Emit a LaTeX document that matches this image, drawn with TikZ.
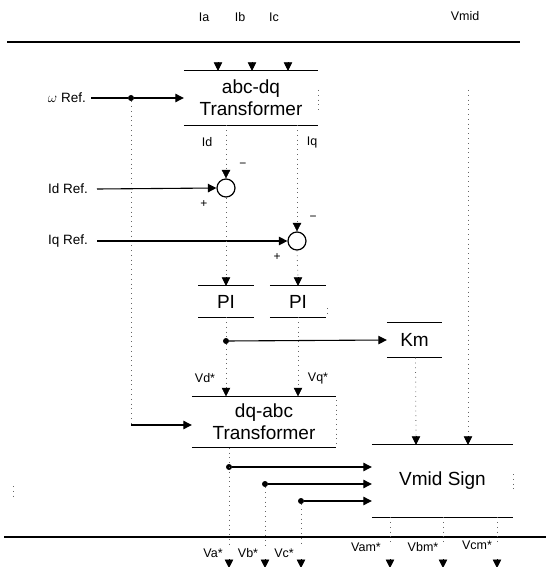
\documentclass[tikz,border=0pt]{standalone}
\usepackage{fontspec}
\setmainfont{Liberation Sans}
\usetikzlibrary{arrows.meta}
\begin{document}
\begin{tikzpicture}[x=1pt,y=-1pt,
  lab/.style={font=\fontsize{12.5}{14}\selectfont, inner sep=0pt},
  reflab/.style={font=\fontsize{13.5}{16}\selectfont, inner sep=0pt, anchor=east},
  blk/.style={font=\fontsize{19}{22}\selectfont, align=center, inner sep=0pt},
  hline/.style={line width=1.2pt},
  dotl/.style={line width=0.8pt, dash pattern=on 0.8pt off 4pt, black!60},
  arr/.style={line width=1.1pt, -{Triangle[length=8.5pt,width=8.5pt]}},
  tip/.style={line width=0.5pt, -{Triangle[length=8.5pt,width=8.5pt]}},
  jn/.style={circle, fill, inner sep=0pt, minimum size=6pt},
  sumj/.style={circle, draw, line width=1.2pt, minimum size=18pt, inner sep=0pt},
  sgn/.style={font=\fontsize{12}{14}\selectfont, inner sep=0pt},
]
\useasboundingbox (0,0) rectangle (546,567);

% top bus
\node[lab] (ia) at (204,17) {Ia};
\node[lab] (ib) at (240,17) {Ib};
\node[lab] (ic) at (274,17) {Ic};
\node[lab] (vmid) at (465,16) {Vmid};
\coordinate (tl) at (7,42);
\coordinate (tr) at (520,42);
\draw[line width=1.1pt] (tl) -- (tr);

% abc-dq
\node[blk, minimum width=134pt, minimum height=54pt] (abc) at (251,98) {abc-dq\\Transformer};
\draw[hline] (abc.north west) -- (abc.north east);
\draw[hline] (abc.south west) -- (abc.south east);
\draw[dotl] (318,90) -- (318,112);
\foreach \x in {218,252,288} \draw[tip] (\x,63) -- (\x,0 |- abc.north);

% omega ref
\node[reflab] (wref) at (86,98) {$\omega$ Ref.};
\node[jn] (wdot) at (131,98) {};
\draw[line width=1.1pt] (wref.east) ++(5,0) -- (wdot);
\draw[arr] (wdot) -- (abc.west);
\draw[dotl] (wdot) -- (131,425);

% Id / Iq
\node[lab] (idl) at (207,142) {Id};
\node[lab] (iql) at (312,142) {Iq};
\node[sumj] (s1) at (226,188) {};
\node[sumj] (s2) at (297,241) {};
\draw[dotl] (226,0 |- abc.south) -- (226,172);
\draw[tip] (226,171) -- (s1.north);
\draw[dotl] (297,0 |- abc.south) -- (297,225);
\draw[tip] (297,224) -- (s2.north);
\node[sgn] (m1) at (243,165) {\textminus};
\node[sgn] (p1) at (204,204) {+};
\node[sgn] (m2) at (313,218) {\textminus};
\node[sgn] (p2) at (277,257) {+};

\node[reflab] (idref) at (88,189) {Id Ref.};
\node[reflab] (iqref) at (88,241) {Iq Ref.};
\draw[arr] (idref.east) ++(9,0) -- (s1.west);
\draw[arr] (iqref.east) ++(9,0) -- (s2.west);

% PI blocks
\node[blk, minimum width=55pt, minimum height=31pt] (pi1) at (226,301.5) {PI};
\node[blk, minimum width=56pt, minimum height=31pt] (pi2) at (298,301.5) {PI};
\foreach \n in {pi1,pi2}{
  \draw[hline] (\n.north west) -- (\n.north east);
  \draw[hline] (\n.south west) -- (\n.south east);
}
\draw[dotl] (327,308) -- (327,316);
\draw[dotl] (s1.south) -- (226,279);
\draw[tip] (226,278) -- (pi1.north);
\draw[dotl] (s2.south) -- (298,279);
\draw[tip] (298,278) -- (pi2.north);

% Km
\node[blk, minimum width=55pt, minimum height=35pt] (km) at (414.5,340) {Km};
\draw[hline] (km.north west) -- (km.north east);
\draw[hline] (km.south west) -- (km.south east);
\node[jn] (vddot) at (226,341) {};
\draw[dotl] (pi1.south) -- (vddot);
\draw[arr] (vddot) -- (km.west);

% dq-abc
\node[blk, minimum width=144pt, minimum height=51pt] (dq) at (264,422) {dq-abc\\Transformer};
\draw[hline] (dq.north west) -- (dq.north east);
\draw[hline] (dq.south west) -- (dq.south east);
\draw[dotl] (336,400) -- (336,444);
\node[lab] (vdl) at (205,378) {Vd*};
\node[lab] (vql) at (318,378) {Vq*};
\draw[dotl] (vddot) -- (226,389);
\draw[tip] (226,388) -- (226,0 |- dq.north);
\draw[dotl] (pi2.south) -- (298,389);
\draw[tip] (298,388) -- (298,0 |- dq.north);
\draw[arr] (131,425) -- (dq.west |- 0,425);

% Vmid Sign
\node[blk, minimum width=141pt, minimum height=72pt] (vs) at (442.5,481) {Vmid Sign};
\draw[hline] (vs.north west) -- (vs.north east);
\draw[hline] (vs.south west) -- (vs.south east);
\draw[dotl] (513,474) -- (513,492);
\draw[dotl] (km.south) ++(1,0) -- (416,438);
\draw[tip] (416,437) -- (416,0 |- vs.north);
\draw[dotl] (468,90) -- (468,438);
\draw[tip] (468,437) -- (468,0 |- vs.north);

\node[jn] (da) at (229,467) {};
\node[jn] (db) at (265,484) {};
\node[jn] (dc) at (301,501) {};
\foreach \d in {da,db,dc} \draw[arr] (\d) -- (vs.west |- \d);

% bottom bus
\coordinate (bl) at (4,537);
\coordinate (br) at (546,537);
\draw[line width=1.1pt] (bl) -- (br);
\draw[dotl] (229,0 |- dq.south) -- (229,545);
\draw[dotl] (db) -- (265,545);
\draw[dotl] (dc) -- (301,545);
\foreach \x in {390,443,497} \draw[dotl] (\x,0 |- vs.south) -- (\x,545);
\foreach \x in {229,265,301,390,443,497} \draw[tip] (\x,559) -- (\x,568);
\draw[dotl] (13,486) -- (13,496);

\node[lab] (val) at (213,553) {Va*};
\node[lab] (vbl) at (248,553) {Vb*};
\node[lab] (vcl) at (284,553) {Vc*};
\node[lab] (vaml) at (366,547) {Vam*};
\node[lab] (vbml) at (423,547) {Vbm*};
\node[lab] (vcml) at (477,545) {Vcm*};
\end{tikzpicture}
\end{document}
